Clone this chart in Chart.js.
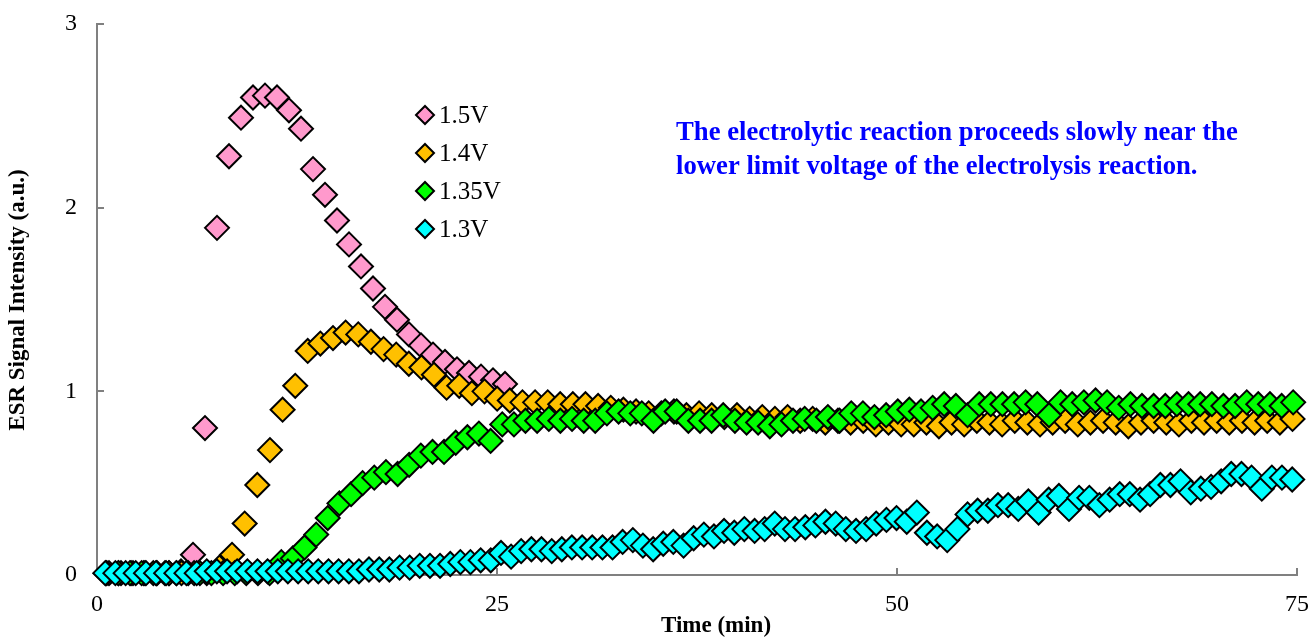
<!DOCTYPE html>
<html>
<head>
<meta charset="utf-8">
<title>ESR Signal Intensity vs Time</title>
<script src="https://cdn.jsdelivr.net/npm/chart.js@4.4.0/dist/chart.umd.min.js"></script>
<style>
  html, body { margin: 0; padding: 0; background: #fff; }
  #wrap { position: relative; width: 1311px; height: 637px; }
</style>
</head>
<body>
<div id="wrap"><canvas id="esrChart"></canvas></div>
<script>
// Series labels and marker colours
const seriesLabels = ["1.5V", "1.4V", "1.35V", "1.3V"];
const seriesColors = ["#FF99CC", "#FFC000", "#00FF00", "#00FFFF"];

// Axis ticks
const xTicks = [0, 25, 50, 75];
const yTicks = [0, 1, 2, 3];

// Annotation text
const noteLines = [
    "The electrolytic reaction proceeds slowly near the",
    "lower limit voltage of the electrolysis reaction."
];

// 1.5V run: time (min) and ESR signal (a.u.)
const time15 = [0.75, 1.5, 2.25, 3, 3.75, 4.5, 5.25, 6, 6.75, 7.5, 8.25, 9, 9.75, 10.5, 11.25, 12, 12.75,
    13.5, 14.25, 15, 15.75, 16.5, 17.25, 18, 18.75, 19.5, 20.25, 21, 21.75, 22.5, 23.25, 24, 24.75, 25.5];
const signal15 = [0.01, 0.01, 0.01, 0.01, 0.01, 0.01, 0.02, 0.11, 0.80, 1.89, 2.28, 2.49, 2.60, 2.61, 2.60, 2.53, 2.43,
    2.21, 2.07, 1.93, 1.80, 1.68, 1.56, 1.46, 1.39, 1.31, 1.25, 1.20, 1.16, 1.12, 1.10, 1.08, 1.06, 1.04];

// 1.4V run
const time14 = [0.55, 1.34, 2.13, 2.92, 3.71, 4.50, 5.28, 6.07, 6.86, 7.65, 8.44, 9.23, 10.02, 10.81, 11.60, 12.39,
    13.17, 13.96, 14.75, 15.54, 16.33, 17.12, 17.91, 18.70, 19.49, 20.28, 21.06, 21.85, 22.64, 23.43, 24.22, 25.01,
    25.80, 26.59, 27.38, 28.17, 28.95, 29.74, 30.53, 31.32, 32.11, 32.90, 33.69, 34.48, 35.27, 36.06, 36.84, 37.63,
    38.42, 39.21, 40.00, 40.79, 41.58, 42.37, 43.16, 43.95, 44.73, 45.52, 46.31, 47.10, 47.89, 48.68, 49.47, 50.26,
    51.05, 51.84, 52.62, 53.41, 54.20, 54.99, 55.78, 56.57, 57.36, 58.15, 58.94, 59.73, 60.51, 61.30, 62.09, 62.88,
    63.67, 64.46, 65.25, 66.04, 66.83, 67.62, 68.40, 69.19, 69.98, 70.77, 71.56, 72.35, 73.14, 73.93, 74.72];
const signal14 = [0.01, 0.01, 0.01, 0.01, 0.01, 0.01, 0.01, 0.01, 0.01, 0.04,
    0.11, 0.28, 0.49, 0.68, 0.90, 1.03, 1.22, 1.26, 1.29, 1.32,
    1.31, 1.27, 1.23, 1.20, 1.15, 1.13, 1.09, 1.02, 1.03, 0.99,
    1.00, 0.96, 0.95, 0.94, 0.94, 0.94, 0.93, 0.93, 0.93, 0.92,
    0.91, 0.90, 0.89, 0.88, 0.88, 0.89, 0.87, 0.88, 0.87, 0.86,
    0.87, 0.85, 0.86, 0.85, 0.86, 0.84, 0.85, 0.83, 0.84, 0.83,
    0.84, 0.82, 0.83, 0.82, 0.82, 0.83, 0.81, 0.83, 0.82, 0.84,
    0.83, 0.82, 0.84, 0.83, 0.82, 0.83, 0.84, 0.82, 0.83, 0.84,
    0.83, 0.81, 0.83, 0.84, 0.83, 0.82, 0.84, 0.83, 0.84, 0.83,
    0.84, 0.83, 0.84, 0.83, 0.85];

// 1.35V run
const time135 = [0.61, 1.34, 2.06, 2.79, 3.52, 4.25, 4.97, 5.70, 6.43, 7.15, 7.88, 8.61, 9.33, 10.06, 10.79, 11.52,
    12.24, 12.97, 13.70, 14.42, 15.15, 15.88, 16.60, 17.33, 18.06, 18.79, 19.51, 20.24, 20.97, 21.69, 22.42, 23.15,
    23.87, 24.60, 25.33, 26.06, 26.78, 27.51, 28.24, 28.96, 29.69, 30.42, 31.14, 31.87, 32.60, 33.33, 34.05, 34.78,
    35.51, 36.23, 36.96, 37.69, 38.41, 39.14, 39.87, 40.60, 41.32, 42.05, 42.78, 43.50, 44.23, 44.96, 45.68, 46.41,
    47.14, 47.87, 48.59, 49.32, 50.05, 50.77, 51.50, 52.23, 52.95, 53.68, 54.41, 55.14, 55.86, 56.59, 57.32, 58.04,
    58.77, 59.50, 60.22, 60.95, 61.68, 62.41, 63.13, 63.86, 64.59, 65.31, 66.04, 66.77, 67.49, 68.22, 68.95, 69.68,
    70.40, 71.13, 71.86, 72.58, 73.31, 74.04, 74.76];
const signal135 = [0.01, 0.01, 0.01, 0.01, 0.01, 0.01, 0.01, 0.01, 0.01, 0.01, 0.01, 0.01, 0.01, 0.01, 0.01,
    0.07, 0.09, 0.15, 0.22, 0.31, 0.39, 0.44, 0.50, 0.53, 0.56,
    0.55, 0.60, 0.65, 0.67, 0.67, 0.72, 0.75, 0.77, 0.73, 0.82,
    0.82, 0.84, 0.84, 0.85, 0.84, 0.85, 0.84, 0.84, 0.88, 0.89,
    0.88, 0.88, 0.84, 0.89, 0.89, 0.84, 0.84, 0.84, 0.87, 0.84,
    0.83, 0.83, 0.81, 0.82, 0.84, 0.85, 0.84, 0.86, 0.84, 0.88,
    0.88, 0.86, 0.87, 0.89, 0.90, 0.89, 0.91, 0.93, 0.92, 0.87,
    0.93, 0.93, 0.93, 0.93, 0.94, 0.93, 0.87, 0.94, 0.93, 0.94,
    0.95, 0.94, 0.91, 0.93, 0.92, 0.92, 0.92, 0.93, 0.93, 0.93,
    0.93, 0.92, 0.92, 0.94, 0.93, 0.93, 0.92, 0.94];

// 1.3V run
const time13 = [0.52, 1.15, 1.79, 2.42, 3.06, 3.69, 4.32, 4.96, 5.59, 6.23, 6.86, 7.49, 8.13, 8.76, 9.40, 10.03,
    10.66, 11.30, 11.93, 12.57, 13.20, 13.83, 14.47, 15.10, 15.74, 16.37, 17.00, 17.64, 18.27, 18.91, 19.54, 20.17,
    20.81, 21.44, 22.08, 22.71, 23.34, 23.98, 24.61, 25.25, 25.88, 26.51, 27.15, 27.78, 28.42, 29.05, 29.68, 30.32,
    30.95, 31.59, 32.22, 32.85, 33.49, 34.12, 34.76, 35.39, 36.02, 36.66, 37.29, 37.93, 38.56, 39.19, 39.83, 40.46,
    41.10, 41.73, 42.36, 43.00, 43.63, 44.27, 44.90, 45.53, 46.17, 46.80, 47.44, 48.07, 48.70, 49.34, 49.97, 50.61,
    51.24, 51.87, 52.51, 53.14, 53.78, 54.41, 55.04, 55.68, 56.31, 56.95, 57.58, 58.21, 58.85, 59.48, 60.12, 60.75,
    61.38, 62.02, 62.65, 63.29, 63.92, 64.55, 65.19, 65.82, 66.46, 67.09, 67.72, 68.36, 68.99, 69.63, 70.26, 70.89,
    71.53, 72.16, 72.80, 73.43, 74.06, 74.70];
const signal13 = [0.01, 0.01, 0.01, 0.01, 0.01, 0.01, 0.01, 0.01, 0.01, 0.01,
    0.02, 0.02, 0.02, 0.02, 0.02, 0.02, 0.02, 0.02, 0.02, 0.02, 0.02, 0.02, 0.02, 0.02, 0.02, 0.02,
    0.03, 0.03, 0.03, 0.04, 0.04, 0.05, 0.05, 0.05, 0.06, 0.07, 0.07,
    0.08, 0.08, 0.12, 0.10, 0.13, 0.14, 0.14, 0.13, 0.14, 0.15,
    0.15, 0.15, 0.15, 0.15, 0.18, 0.19, 0.16, 0.14, 0.17, 0.18,
    0.16, 0.20, 0.22, 0.21, 0.24, 0.23, 0.25, 0.24, 0.25, 0.28,
    0.25, 0.25, 0.26, 0.27, 0.29, 0.28, 0.25, 0.24, 0.25, 0.28,
    0.30, 0.31, 0.29, 0.34, 0.23,
    0.21, 0.19, 0.25, 0.33, 0.35, 0.35, 0.38, 0.38, 0.36, 0.40,
    0.34, 0.41, 0.43, 0.36, 0.42, 0.42, 0.38, 0.41, 0.44, 0.44,
    0.41, 0.44, 0.49, 0.49, 0.51, 0.45, 0.47, 0.48, 0.51, 0.55,
    0.55, 0.53, 0.47, 0.53, 0.53, 0.52];

const seriesTimes = [time15, time14, time135, time13];
const seriesValues = [signal15, signal14, signal135, signal13];

const serif = "'Liberation Serif', 'Times New Roman', serif";

function toPoints(times, values) {
    return times.map((t, i) => ({ x: t, y: values[i] }));
}

// inward tick marks, legend, axis titles and the note
const decorPlugin = {
    id: "decor",
    beforeDatasetsDraw(chart) {
        const ctx = chart.ctx;
        const area = chart.chartArea;
        const xs = chart.scales.x;
        const ys = chart.scales.y;
        ctx.save();
        ctx.strokeStyle = "#808080";
        ctx.lineWidth = 2;
        ctx.beginPath();
        xTicks.forEach(v => {
            const px = Math.round(xs.getPixelForValue(v));
            ctx.moveTo(px, area.bottom);
            ctx.lineTo(px, area.bottom - 7);
        });
        yTicks.forEach(v => {
            const py = Math.round(ys.getPixelForValue(v));
            ctx.moveTo(area.left, py);
            ctx.lineTo(area.left + 7, py);
        });
        ctx.stroke();
        ctx.restore();
    },
    afterDraw(chart) {
        const ctx = chart.ctx;
        ctx.save();

        // legend
        seriesLabels.forEach((label, i) => {
            const y = 115 + i * 38;
            ctx.fillStyle = seriesColors[i];
            ctx.strokeStyle = "#000";
            ctx.lineWidth = 2;
            Chart.helpers.drawPoint(ctx, { pointStyle: "rectRot", radius: 9, borderWidth: 2, rotation: 0 }, 425, y);
            ctx.fillStyle = "#000";
            ctx.font = "25px " + serif;
            ctx.textAlign = "left";
            ctx.textBaseline = "middle";
            ctx.fillText(label, 439, y + 1);
        });

        // note
        ctx.fillStyle = "#0000FF";
        ctx.font = "bold 26.7px " + serif;
        ctx.textAlign = "left";
        ctx.textBaseline = "middle";
        noteLines.forEach((line, i) => ctx.fillText(line, 676, 133 + i * 34));

        // axis titles
        ctx.fillStyle = "#000";
        ctx.font = "bold 23px " + serif;
        ctx.textAlign = "center";
        ctx.fillText("Time (min)", 716, 626);
        ctx.translate(18, 300);
        ctx.rotate(-Math.PI / 2);
        ctx.fillText("ESR Signal Intensity (a.u.)", 0, 0);

        ctx.restore();
    }
};

const ctx = document.getElementById("esrChart").getContext("2d");
new Chart(ctx, {
    type: "scatter",
    data: {
        datasets: seriesLabels.map((label, i) => ({
            label: label,
            data: toPoints(seriesTimes[i], seriesValues[i]),
            pointStyle: "rectRot",
            pointRadius: 12,
            pointHoverRadius: 12,
            pointBackgroundColor: seriesColors[i],
            pointBorderColor: "#000",
            pointBorderWidth: 2,
            showLine: false,
            clip: false,
            order: seriesLabels.length - i
        }))
    },
    options: {
        responsive: true,
        maintainAspectRatio: false,
        animation: false,
        events: [],
        layout: { padding: { top: 24, right: 11, left: 0, bottom: 0 } },
        plugins: {
            legend: { display: false },
            tooltip: { enabled: false }
        },
        scales: {
            x: {
                type: "linear",
                min: 0,
                max: 75,
                afterBuildTicks: s => { s.ticks = xTicks.map(v => ({ value: v })); },
                afterFit: s => { s.height = 62; s.paddingLeft = 0; s.paddingRight = 0; },
                grid: { drawOnChartArea: false, drawTicks: true, tickLength: 15, tickColor: "rgba(0,0,0,0)" },
                border: { display: true, color: "#808080", width: 2 },
                ticks: { padding: 0, color: "#000", maxRotation: 0, font: { family: serif, size: 24 } }
            },
            y: {
                type: "linear",
                min: 0,
                max: 3,
                afterBuildTicks: s => { s.ticks = yTicks.map(v => ({ value: v })); },
                afterFit: s => { s.width = 97; s.paddingTop = 0; s.paddingBottom = 0; },
                grid: { drawOnChartArea: false, drawTicks: true, tickLength: 20, tickColor: "rgba(0,0,0,0)" },
                border: { display: true, color: "#808080", width: 2 },
                ticks: { padding: 0, color: "#000", font: { family: serif, size: 24 } }
            }
        }
    },
    plugins: [decorPlugin]
});
</script>
</body>
</html>
